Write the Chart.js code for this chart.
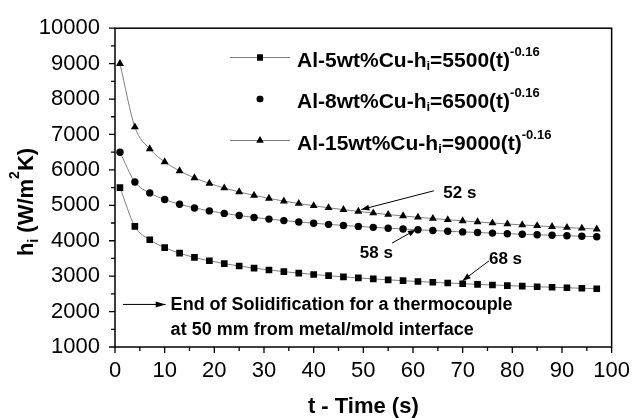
<!DOCTYPE html>
<html>
<head>
<meta charset="utf-8">
<script src="https://cdn.jsdelivr.net/npm/chart.js@4/dist/chart.umd.min.js"></script>
<style>
  html, body { margin: 0; padding: 0; background: #fff; }
  #wrap { width: 641px; height: 418px; }
</style>
</head>
<body>
<div id="wrap"><canvas id="c" width="641" height="418"></canvas></div>
<script>
// sampling times (s) and interfacial heat transfer coefficients (W/m2K)
var times = [1, 4, 7, 10, 13, 16, 19, 22, 25, 28, 31, 34, 37, 40, 43, 46, 49,
             52, 55, 58, 61, 64, 67, 70, 73, 76, 79, 82, 85, 88, 91, 94, 97];
var hCu5  = [5500, 4406, 4028, 3805, 3649, 3529, 3434, 3354, 3286, 3227, 3175, 3128, 3086, 3048, 3013, 2981, 2951,
             2923, 2897, 2872, 2849, 2827, 2807, 2787, 2768, 2751, 2734, 2717, 2702, 2687, 2673, 2659, 2645];
var hCu8  = [6500, 5659, 5351, 5163, 5030, 4926, 4842, 4772, 4711, 4658, 4611, 4568, 4530, 4495, 4462, 4432, 4404,
             4378, 4354, 4331, 4309, 4288, 4269, 4250, 4232, 4215, 4199, 4183, 4168, 4154, 4140, 4127, 4114];
var hCu15 = [9000, 7210, 6592, 6226, 5971, 5775, 5619, 5489, 5377, 5281, 5196, 5119, 5050, 4988, 4930, 4878, 4828,
             4783, 4740, 4700, 4662, 4627, 4593, 4561, 4530, 4501, 4473, 4447, 4421, 4397, 4373, 4351, 4329];

var alloyNames = ['Al-5wt%Cu-h', 'Al-8wt%Cu-h', 'Al-15wt%Cu-h'];
var fitCoef    = ['5500', '6500', '9000'];
var fitExp     = '-0.16';
var styles     = ['rect', 'circle', 'triangle'];
var radii      = [4.7, 3.7, 4.6];

var xTitle = 't - Time (s)';

// end-of-solidification callouts, positioned in data units
var callouts = [
  { text: '52 s', tx: 66.1, ty: 5220, from: [64.2, 5410], to: [49.6, 4880] },
  { text: '58 s', tx: 49.3, ty: 3516, from: [55.8, 3935], to: [60.6, 4312] },
  { text: '68 s', tx: 75.3, ty: 3340, from: [75.3, 3432], to: [70.0, 2873] }
];
var noteLines = ['End of Solidification for a thermocouple', 'at 50 mm from metal/mold interface'];
var noteY = [2035, 1336];

var FONT = "'Liberation Sans', Arial, sans-serif";

function pts(vals) {
  return times.map(function (t, i) { return { x: t, y: vals[i] }; });
}

function series(label, vals, i) {
  return {
    label: label,
    data: pts(vals),
    borderColor: '#808080',
    borderWidth: 1,
    cubicInterpolationMode: 'monotone',
    pointStyle: styles[i],
    pointRadius: radii[i],
    pointHoverRadius: radii[i],
    pointBackgroundColor: '#000',
    pointBorderWidth: 0
  };
}

// draw a run of text pieces (main / sub / superscript) left to right
function drawRich(ctx, parts, x, y) {
  parts.forEach(function (p) {
    ctx.font = 'bold ' + p.size + 'px ' + FONT;
    ctx.fillText(p.t, x, y + (p.dy || 0));
    x += ctx.measureText(p.t).width;
  });
  return x;
}
function richWidth(ctx, parts) {
  var w = 0;
  parts.forEach(function (p) {
    ctx.font = 'bold ' + p.size + 'px ' + FONT;
    w += ctx.measureText(p.t).width;
  });
  return w;
}

function arrow(ctx, x0, y0, x1, y1, len, half) {
  ctx.beginPath(); ctx.moveTo(x0, y0); ctx.lineTo(x1, y1); ctx.stroke();
  var a = Math.atan2(y1 - y0, x1 - x0);
  var bx = x1 - len * Math.cos(a), by = y1 - len * Math.sin(a);
  ctx.beginPath();
  ctx.moveTo(x1, y1);
  ctx.lineTo(bx + half * Math.sin(a), by - half * Math.cos(a));
  ctx.lineTo(bx - half * Math.sin(a), by + half * Math.cos(a));
  ctx.closePath(); ctx.fill();
}

var decor = {
  id: 'decor',
  afterDraw: function (chart) {
    var ctx = chart.ctx, a = chart.chartArea;
    var sx = chart.scales.x, sy = chart.scales.y;
    ctx.save();
    ctx.fillStyle = '#000';
    ctx.strokeStyle = '#000';

    // frame
    ctx.lineWidth = 1.5;
    ctx.strokeRect(a.left, a.top, a.right - a.left, a.bottom - a.top);

    // outward major/minor ticks
    ctx.lineWidth = 1.3;
    ctx.beginPath();
    for (var v = 0; v <= 100; v += 5) {
      var px = sx.getPixelForValue(v);
      ctx.moveTo(px, a.bottom);
      ctx.lineTo(px, a.bottom + (v % 10 === 0 ? 6 : 4));
    }
    for (var h = 1000; h <= 10000; h += 500) {
      var py = sy.getPixelForValue(h);
      ctx.moveTo(a.left, py);
      ctx.lineTo(a.left - (h % 1000 === 0 ? 6 : 4), py);
    }
    ctx.stroke();

    // axis titles
    ctx.textBaseline = 'alphabetic';
    ctx.textAlign = 'center';
    ctx.font = 'bold 22px ' + FONT;
    ctx.fillText(xTitle, (a.left + a.right) / 2, 413);

    ctx.textAlign = 'left';
    var yt = [
      { t: 'h', size: 22 }, { t: 'i', size: 14, dy: 5 },
      { t: ' (W/m', size: 22 }, { t: '2', size: 14, dy: -14 },
      { t: 'K)', size: 22 }
    ];
    ctx.save();
    ctx.translate(33, 202);
    ctx.rotate(-Math.PI / 2);
    drawRich(ctx, yt, -richWidth(ctx, yt) / 2, 0);
    ctx.restore();

    // legend
    var lx = 260, base = 66.5;
    alloyNames.forEach(function (name, i) {
      var by = base + i * 41.5;
      var my = by - 9;
      if (i !== 1) {
        ctx.strokeStyle = '#808080'; ctx.lineWidth = 1;
        ctx.beginPath(); ctx.moveTo(lx - 30, my); ctx.lineTo(lx + 30, my); ctx.stroke();
      }
      Chart.helpers.drawPoint(ctx, {
        pointStyle: styles[i], radius: radii[i] * 0.9, rotation: 0, borderWidth: 0
      }, lx, my);
      ctx.fill();
      drawRich(ctx, [
        { t: name, size: 21 }, { t: 'i', size: 13, dy: 3 },
        { t: '=' + fitCoef[i] + '(t)', size: 21 }, { t: fitExp, size: 13, dy: -11 }
      ], 297, by);
    });

    // callouts
    ctx.strokeStyle = '#000'; ctx.lineWidth = 1;
    ctx.font = 'bold 17px ' + FONT;
    callouts.forEach(function (c) {
      ctx.fillText(c.text, sx.getPixelForValue(c.tx), sy.getPixelForValue(c.ty));
      arrow(ctx, sx.getPixelForValue(c.from[0]), sy.getPixelForValue(c.from[1]),
                 sx.getPixelForValue(c.to[0]), sy.getPixelForValue(c.to[1]), 8, 3);
    });

    // bottom note with its arrow
    arrow(ctx, sx.getPixelForValue(1.6), sy.getPixelForValue(2202),
               sx.getPixelForValue(10.2), sy.getPixelForValue(2202), 10, 3);
    ctx.font = 'bold 18px ' + FONT;
    noteLines.forEach(function (line, i) {
      ctx.fillText(line, sx.getPixelForValue(11.2), sy.getPixelForValue(noteY[i]));
    });

    ctx.restore();
  }
};

new Chart(document.getElementById('c'), {
  type: 'line',
  data: {
    datasets: [
      series(alloyNames[0], hCu5, 0),
      series(alloyNames[1], hCu8, 1),
      series(alloyNames[2], hCu15, 2)
    ]
  },
  options: {
    responsive: false,
    devicePixelRatio: 1,
    animation: false,
    layout: { padding: { top: 25, right: 19, left: 0, bottom: 0 } },
    plugins: { legend: { display: false }, tooltip: { enabled: false } },
    scales: {
      x: {
        type: 'linear', min: 0, max: 100,
        grid: { display: false, drawTicks: false },
        border: { display: false },
        ticks: { stepSize: 10, color: '#000', padding: 11, maxRotation: 0, autoSkip: false,
                 font: { family: FONT, size: 22 },
                 callback: function (v) { return String(v); } },
        afterFit: function (s) { s.height = 71; }
      },
      y: {
        min: 1000, max: 10000,
        grid: { display: false, drawTicks: false },
        border: { display: false },
        ticks: { stepSize: 1000, color: '#000', padding: 15,
                 font: { family: FONT, size: 22 },
                 callback: function (v) { return String(v); } },
        afterFit: function (s) { s.width = 115; }
      }
    }
  },
  plugins: [decor]
});
</script>
</body>
</html>
